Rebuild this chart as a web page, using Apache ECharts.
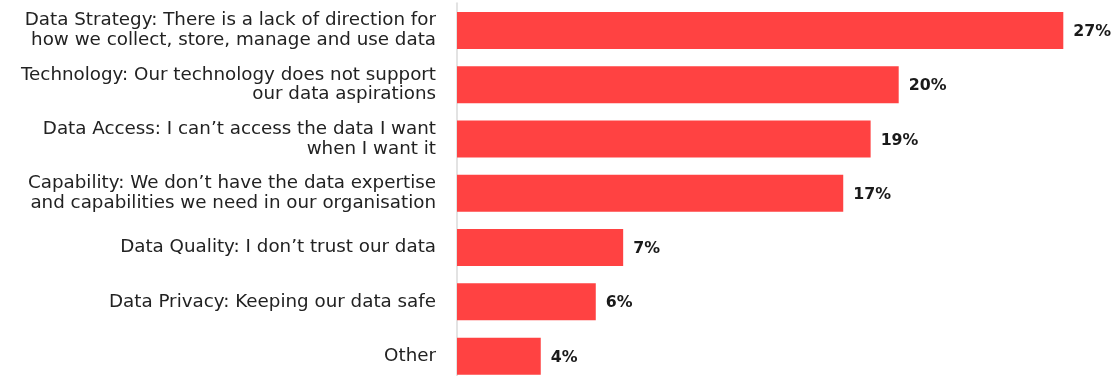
<!DOCTYPE html>
<html><head><meta charset="utf-8">
<script src="https://cdn.jsdelivr.net/npm/echarts@6/dist/echarts.min.js"></script>
<style>html,body{margin:0;padding:0;background:#fff}#c{width:1119px;height:376px}</style>
</head><body><div id="c"></div>
<script>
const categories = [
  "Data Strategy: There is a lack of direction for\nhow we collect, store, manage and use data",
  "Technology: Our technology does not support\nour data aspirations",
  "Data Access: I can\u2019t access the data I want\nwhen I want it",
  "Capability: We don\u2019t have the data expertise\nand capabilities we need in our organisation",
  "Data Quality: I don\u2019t trust our data",
  "Data Privacy: Keeping our data safe",
  "Other"
];
const values = [27, 19.67, 18.42, 17.2, 7.4, 6.18, 3.73];
const valueLabels = ["27%", "20%", "19%", "17%", "7%", "6%", "4%"];

const chart = echarts.init(document.getElementById('c'), null, {renderer: 'canvas'});
chart.setOption({
  animation: false,
  grid: {left: 457, width: 606.3, top: 3.3, height: 380, containLabel: false, outerBoundsMode: 'none'},
  xAxis: {type: 'value', min: 0, max: 27, show: false},
  yAxis: {
    type: 'category', data: categories, inverse: true,
    axisLine: {show: true, lineStyle: {color: '#e3e3e3', width: 2}},
    axisTick: {show: false},
    axisLabel: {
      margin: 21, align: 'right', color: '#222',
      fontFamily: 'DejaVu Sans', fontSize: 18.3, lineHeight: 19.5
    }
  },
  series: [{
    type: 'bar', data: values, barWidth: 37,
    itemStyle: {color: '#FF4242'},
    label: {
      show: true, position: 'right', distance: 10, offset: [0, 1.5],
      formatter: p => valueLabels[p.dataIndex],
      fontFamily: 'DejaVu Sans', fontWeight: 'bold', fontSize: 15.8, color: '#1a1a1a'
    }
  }]
});
</script></body></html>
